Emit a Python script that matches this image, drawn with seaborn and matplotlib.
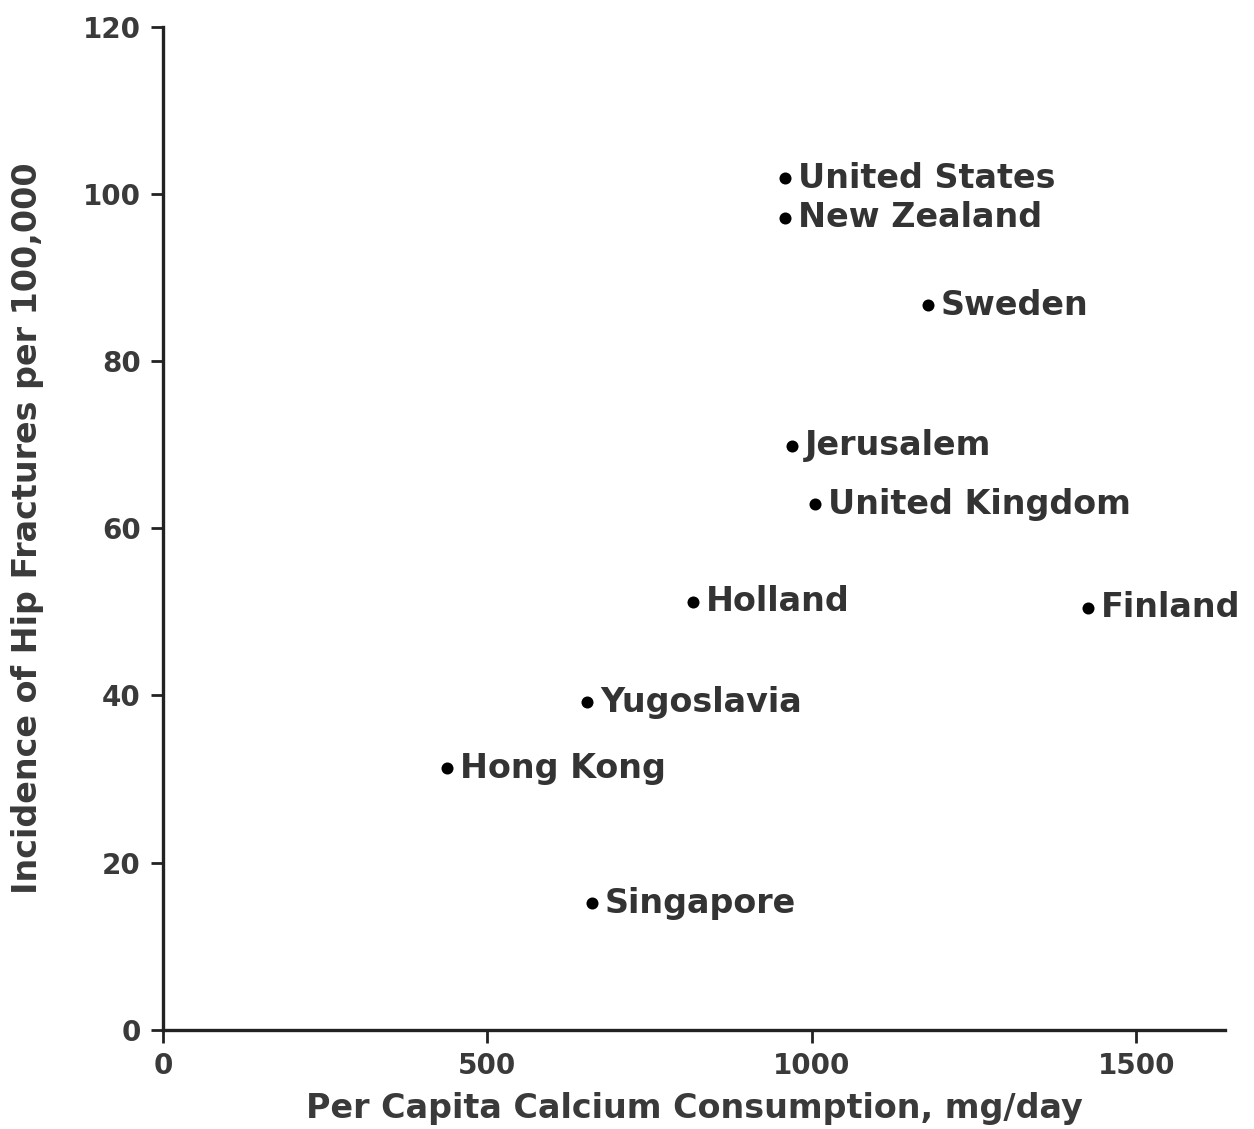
import pandas as pd
import matplotlib
matplotlib.use("Agg")
import matplotlib.pyplot as plt
import seaborn as sns

# data
countries = ["United States", "New Zealand", "Sweden", "Jerusalem", "United Kingdom",
             "Holland", "Finland", "Yugoslavia", "Hong Kong", "Singapore"]
calcium = [959, 959, 1179, 970, 1005, 817, 1426, 654, 438, 661]
fractures = [101.9, 97.2, 86.7, 69.9, 62.9, 51.2, 50.5, 39.2, 31.3, 15.1]

x_ticks = [0, 500, 1000, 1500]
y_ticks = [0, 20, 40, 60, 80, 100, 120]

df = pd.DataFrame({"country": countries, "calcium": calcium, "fractures": fractures})

sns.set_style("ticks")
plt.rcParams["font.family"] = ["DejaVu Sans"]

fig = plt.figure(figsize=(12.54, 11.29), dpi=100)
ax = fig.add_axes([0.130, 0.088, 0.847, 0.888])

sns.scatterplot(data=df, x="calcium", y="fractures", ax=ax, color="black",
                s=75, marker="o", edgecolor="black", linewidth=0, zorder=3)

for _, row in df.iterrows():
    ax.annotate(row["country"], (row["calcium"], row["fractures"]),
                xytext=(9, 0), textcoords="offset points", va="center", ha="left",
                fontsize=24, fontweight="bold", color="#333333")

ax.set_xlim(0, 1637)
ax.set_ylim(0, 120)
ax.set_xticks(x_ticks)
ax.set_yticks(y_ticks)
ax.tick_params(axis="both", labelsize=20, labelcolor="#3a3a3a", length=9, width=2,
               color="#222222", pad=7)
for lab in ax.get_xticklabels() + ax.get_yticklabels():
    lab.set_fontweight("bold")

ax.set_xlabel("Per Capita Calcium Consumption, mg/day", fontsize=24, fontweight="bold",
              color="#3a3a3a", labelpad=9)
ax.set_ylabel("Incidence of Hip Fractures per 100,000", fontsize=24, fontweight="bold",
              color="#3a3a3a", labelpad=28)

sns.despine(ax=ax)
for side in ["left", "bottom"]:
    ax.spines[side].set_linewidth(2.4)
    ax.spines[side].set_color("#222222")

fig.savefig("out.png", dpi=100, facecolor="white")
